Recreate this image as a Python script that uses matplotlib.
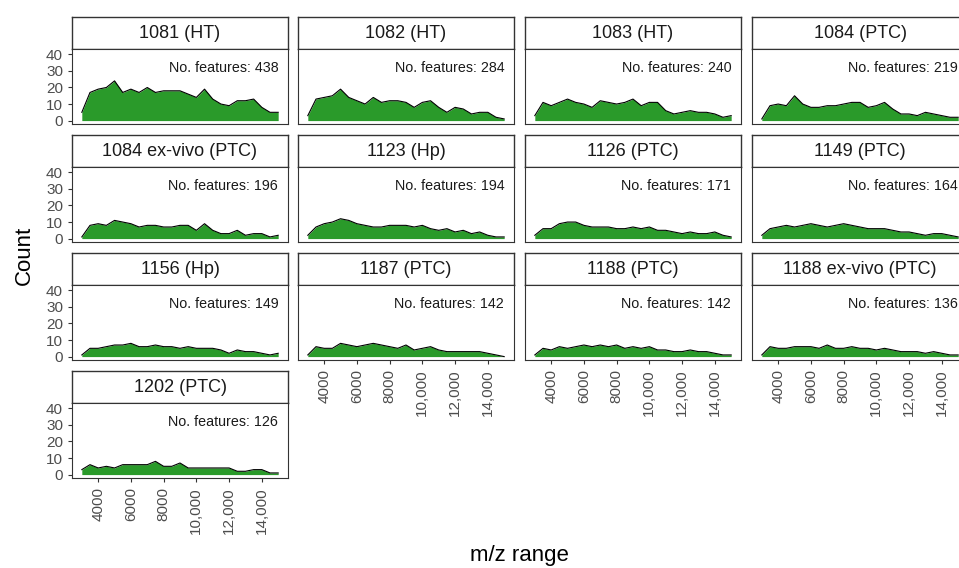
import matplotlib.pyplot as plt
import numpy as np
from matplotlib.ticker import FuncFormatter

plt.rcParams['font.family'] = ['Liberation Sans', 'DejaVu Sans']

# m/z bins (Da), 500 Da apart
mz = np.arange(3000, 15001, 500)

samples = ['1081 (HT)', '1082 (HT)', '1083 (HT)', '1084 (PTC)',
           '1084 ex-vivo (PTC)', '1123 (Hp)', '1126 (PTC)', '1149 (PTC)',
           '1156 (Hp)', '1187 (PTC)', '1188 (PTC)', '1188 ex-vivo (PTC)',
           '1202 (PTC)']
n_features = [438, 284, 240, 219, 196, 194, 171, 164, 149, 142, 142, 136, 126]

counts = [
    [5, 17, 19, 20, 24, 17, 19, 17, 20, 17, 18, 18, 18, 16, 14, 19, 13, 10, 9, 12, 12, 13, 8, 5, 5],
    [3, 13, 14, 15, 19, 14, 12, 10, 14, 11, 12, 12, 11, 8, 11, 12, 8, 5, 8, 7, 4, 5, 5, 2, 1],
    [3, 11, 9, 11, 13, 11, 10, 8, 12, 11, 10, 11, 13, 9, 11, 11, 6, 4, 5, 6, 5, 5, 4, 2, 3],
    [1, 9, 10, 9, 15, 10, 8, 8, 9, 9, 10, 11, 11, 8, 9, 11, 7, 4, 4, 3, 5, 4, 3, 2, 2],
    [1, 8, 9, 8, 11, 10, 9, 7, 8, 8, 7, 7, 8, 8, 5, 9, 5, 3, 3, 5, 2, 3, 3, 1, 2],
    [2, 7, 9, 10, 12, 11, 9, 8, 7, 7, 8, 8, 8, 7, 8, 6, 5, 6, 4, 5, 3, 4, 2, 1, 1],
    [2, 6, 6, 9, 10, 10, 8, 7, 7, 7, 6, 6, 7, 6, 7, 5, 5, 4, 3, 4, 3, 3, 4, 2, 1],
    [2, 6, 7, 8, 7, 8, 9, 8, 7, 8, 9, 8, 7, 6, 6, 6, 5, 4, 4, 3, 2, 3, 3, 2, 1],
    [1, 5, 5, 6, 7, 7, 8, 6, 6, 7, 6, 6, 5, 6, 5, 5, 5, 4, 2, 4, 3, 3, 2, 1, 2],
    [1, 6, 5, 5, 8, 7, 6, 7, 8, 7, 6, 5, 7, 4, 5, 6, 4, 3, 3, 3, 3, 3, 2, 1, 0],
    [1, 5, 4, 6, 5, 6, 7, 6, 7, 6, 7, 5, 6, 5, 6, 4, 4, 3, 3, 4, 3, 3, 2, 1, 1],
    [1, 6, 5, 5, 6, 6, 6, 5, 7, 5, 5, 6, 5, 5, 4, 5, 4, 3, 3, 3, 2, 3, 2, 1, 1],
    [3, 6, 4, 5, 4, 6, 6, 6, 6, 8, 5, 5, 7, 4, 4, 4, 4, 4, 4, 2, 2, 3, 3, 1, 1],
]

yticks = [0, 10, 20, 30, 40]
xticks = [4000, 6000, 8000, 10000, 12000, 14000]

W, H = 959, 568
fig = plt.figure(figsize=(W / 100, H / 100), dpi=100)

col_left = [72, 298, 525, 752]
panel_w = 216
row_top = [17, 135, 253, 371]
strip_h = 32
plot_h = 75

fill_col = '#2a9a2a'
grey = '#4d4d4d'


def box(x, y, w, h):
    return [x / W, 1 - (y + h) / H, w / W, h / H]


for i, name in enumerate(samples):
    r, c = divmod(i, 4)
    x0, y0 = col_left[c], row_top[r]

    st = fig.add_axes(box(x0, y0, panel_w, strip_h))
    st.set_xticks([])
    st.set_yticks([])
    for s in st.spines.values():
        s.set_color('#333333')
        s.set_linewidth(1.0)
    st.text(0.5, 0.5, name, ha='center', va='center', fontsize=13, color='#1a1a1a',
            transform=st.transAxes)

    ax = fig.add_axes(box(x0, y0 + strip_h, panel_w, plot_h))
    y = np.array(counts[i])
    ax.fill_between(mz, 0, y, color=fill_col, lw=0)
    ax.plot(mz, y, color='black', lw=0.8)
    ax.set_xlim(2400, 15600)
    ax.set_ylim(-2.06, 43.26)
    ax.text(15000, 32, f'No. features: {n_features[i]}', ha='right', va='center',
            fontsize=10.3, color='#1a1a1a')
    for s in ax.spines.values():
        s.set_color('#333333')
        s.set_linewidth(0.8)
    ax.tick_params(colors='#333333', labelcolor=grey, length=3, width=0.8, labelsize=11)
    ax.set_yticks(yticks)
    ax.set_xticks(xticks)
    ax.xaxis.set_major_formatter(FuncFormatter(
        lambda v, p: f'{int(v):,}' if v >= 10000 else f'{int(v)}'))
    if c != 0:
        ax.tick_params(axis='y', labelleft=False, length=0)
    # x labels only on the bottom panel of each column
    if i + 4 < len(samples):
        ax.tick_params(axis='x', labelbottom=False, length=0)
    else:
        for lab in ax.get_xticklabels():
            lab.set_rotation(90)
            lab.set_va('top')
            lab.set_ha('center')

fig.text(24 / W, 1 - 255 / H, 'Count', rotation=90, ha='center', va='center',
         fontsize=16, color='black')
fig.text(519 / W, 1 - 555 / H, 'm/z range', ha='center', va='center',
         fontsize=16, color='black')

fig.savefig('out.png', dpi=100)
